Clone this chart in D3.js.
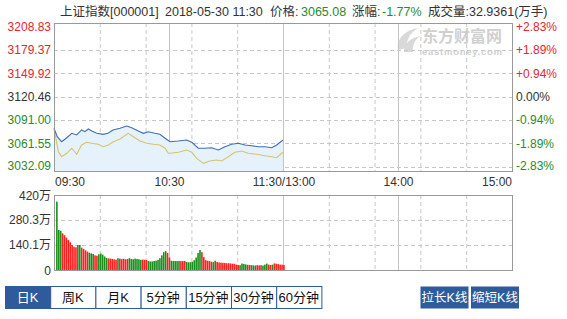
<!DOCTYPE html>
<html><head><meta charset="utf-8">
<script src="https://cdn.jsdelivr.net/npm/d3@7/dist/d3.min.js"></script>
<style>
html,body{margin:0;padding:0;background:#fff;}
svg text{font-family:"Liberation Sans",Arial,"Noto Sans CJK SC",sans-serif;}
</style></head>
<body><svg id="c" width="567" height="319"></svg>
<script>
// ---- data ----
const priceTicks = [3208.83, 3179.37, 3149.92, 3120.46, 3091.00, 3061.55, 3032.09];
const pctTicks = ["+2.83%", "+1.89%", "+0.94%", "0.00%", "-0.94%", "-1.89%", "-2.83%"];
const volTicks = [420, 280.3, 140.1, 0];
const volTickLabels = ["420万", "280.3万", "140.1万", "0"];
const timeLabels = ["09:30", "10:30", "11:30/13:00", "14:00", "15:00"];
const timeLabelMinutes = [0, 60, 120, 180, 240];
const priceMinutes = [0,1.7,4,6.7,9.3,11.9,14.5,16.2,18,19.8,22.4,25.7,28.3,30.9,34.6,38.1,40.7,44.2,46.8,49.4,52.9,55.5,58.2,60.8,65.1,69.5,72.2,75.6,79.1,82.6,86.1,89.6,93.1,96.6,100.1,103.6,107.1,110.6,114.1,116.7,119.3,120];
const priceValues = [3080.3,3069.7,3063.4,3068.4,3074.0,3071.9,3078.2,3076.0,3079.4,3076.9,3074.0,3072.7,3074.0,3078.2,3080.3,3083.2,3081.1,3076.9,3074.0,3076.0,3074.0,3072.7,3067.7,3063.4,3064.3,3065.5,3062.6,3055.1,3055.1,3055.8,3052.9,3057.1,3060.1,3061.4,3059.2,3058.3,3057.1,3057.1,3055.8,3059.2,3064.3,3065.08];
const avgMinutes = [0,2.3,4,6.7,9.3,11.9,14.5,17.1,19.8,23.2,25.8,28.5,31.1,34.6,38.9,41.6,45.1,48.6,52,55.5,58.2,59.9,60.8,65.1,69.5,72.2,74.8,78.2,81.7,85.2,87.9,91.3,94.8,98.4,101.8,106.2,110.6,114.1,116.7,119.3,120];
const avgValues = [3080.3,3050.8,3044.5,3048.8,3055.1,3047.5,3059.2,3062.6,3061.4,3060.1,3057.1,3059.2,3063.4,3066.8,3074.0,3069.7,3064.3,3061.4,3060.1,3059.2,3055.1,3048.8,3048.8,3050.0,3052.9,3050.0,3042.4,3036.1,3039.0,3040.3,3039.0,3044.5,3050.0,3051.7,3048.8,3047.5,3045.7,3044.5,3043.2,3048.8,3049.8];
const volumes = [383,224,220,205,195,182,168,155,140,130,127,140,140,125,118,110,103,97,93,90,82,80,88,92,86,76,68,65,64,62,60,58,66,64,61,63,60,62,66,62,60,64,62,60,57,58,57,56,50,48,48,50,52,56,66,82,100,106,96,70,52,50,50,50,51,50,50,51,45,43,44,46,55,70,95,112,100,72,55,52,50,46,44,52,45,42,41,40,39,38,38,37,35,34,30,28,27,36,34,31,29,28,27,26,25,27,26,27,25,30,36,30,28,30,37,35,33,30,30,28];
const volDirs = "GGGRRRRRRRRGGRRRRGGGRRGGGGGRRRRRGRRRRRGGGGGGGRRRGGGGGGGGGGRRGGGGGRRRGGGGGGGGRRRRRRGGRRRRRRRRRRRRGGGGRRGGGRRRGGGRRGRRRRRR".split("");
const buttons = ["日K", "周K", "月K", "5分钟", "15分钟", "30分钟", "60分钟"];
const rightButtons = ["拉长K线", "缩短K线"];

// ---- layout ----
const svg = d3.select("#c");
const L = 54, R = 512;
const pTop = 23, pBot = 171, vTop = 195, vBot = 270;
const x = d3.scaleLinear().domain([0, 240]).range([L, R]);
const y = d3.scaleLinear().domain([3032.09, 3208.83]).range([166.5, 26.5]);
const yv = d3.scaleLinear().domain([0, 420]).range([vBot, vTop]);
const red = "#e3262e", green = "#2a8a2a", dark = "#333";

// title
const segs = [
  {t:"上证指数[000001]", x:60, c:dark},
  {t:"2018-05-30 11:30", x:165, c:dark},
  {t:"价格:", x:270, c:dark},
  {t:"3065.08", x:301, c:green},
  {t:"涨幅:", x:352, c:dark},
  {t:"-1.77%", x:382, c:green},
  {t:"成交量:32.9361(万手)", x:428, c:dark}
];
segs.forEach(s => svg.append("text").attr("x", s.x).attr("y", 16).attr("font-size", 12.5).attr("fill", s.c).text(s.t));

// watermark
const wm = svg.append("g").attr("opacity", 0.55);
wm.append("path").attr("d", "M398,50 C396,40 404,30 418,28 C410,33 406,40 407,48 Z").attr("fill", "#bbb");
wm.append("path").attr("d", "M404,52 C404,44 410,38 420,36 C414,41 412,46 413,52 Z").attr("fill", "#bbb");
wm.append("text").attr("x", 422).attr("y", 42).attr("font-size", 16).attr("font-weight", "bold").attr("fill", "#aaa").style("font-family","'Noto Sans CJK SC'").text("东方财富网");
wm.append("text").attr("x", 422).attr("y", 55).attr("font-size", 9.5).attr("font-weight", "bold").attr("fill", "#aaa").attr("textLength", 80).text("eastmoney.com");

// grids
function vgrid(y0, y1) {
  for (let i = 1; i < 10; i++) {
    svg.append("line").attr("x1", x(i*24)+0.5).attr("x2", x(i*24)+0.5).attr("y1", y0).attr("y2", y1)
      .attr("stroke", "#c8c8c8").attr("stroke-dasharray", "4,3");
  }
  [60, 120, 180].forEach(m => svg.append("line").attr("x1", Math.round(x(m))+0.5).attr("x2", Math.round(x(m))+0.5)
      .attr("y1", y0).attr("y2", y1).attr("stroke", "#c4c4c4"));
}
vgrid(pTop, pBot);
vgrid(vTop, vBot);
priceTicks.slice(1).forEach(v => svg.append("line").attr("x1", L).attr("x2", R)
  .attr("y1", Math.round(y(v))+0.5).attr("y2", Math.round(y(v))+0.5).attr("stroke", "#c8c8c8").attr("stroke-dasharray", "4,3"));
volTicks.slice(1, 3).forEach(v => svg.append("line").attr("x1", L).attr("x2", R)
  .attr("y1", Math.round(yv(v))+0.5).attr("y2", Math.round(yv(v))+0.5).attr("stroke", "#c8c8c8").attr("stroke-dasharray", "4,3"));

// price area & lines
const pts = priceMinutes.map((m, i) => [m, priceValues[i]]);
const apts = avgMinutes.map((m, i) => [m, avgValues[i]]);
svg.append("path").datum(pts)
  .attr("d", d3.area().x(d => x(d[0])).y0(pBot).y1(d => y(d[1])))
  .attr("fill", "#e6f2fb");
svg.append("path").datum(apts)
  .attr("d", d3.line().x(d => x(d[0])).y(d => y(d[1])))
  .attr("fill", "none").attr("stroke", "#d6c46a").attr("stroke-width", 1.1);
svg.append("path").datum(pts)
  .attr("d", d3.line().x(d => x(d[0])).y(d => y(d[1])))
  .attr("fill", "none").attr("stroke", "#3f6db3").attr("stroke-width", 1.1);

// volume bars
svg.selectAll("rect.vb").data(volumes).enter().append("rect")
  .attr("x", (d, i) => x(i + 1.5) - 0.8).attr("width", 1.6)
  .attr("y", d => yv(d)).attr("height", d => vBot - yv(d))
  .attr("fill", (d, i) => volDirs[i] === "R" ? "#ff1f1f" : "#1b8f1b");

// frames
svg.append("rect").attr("x", L+0.5).attr("y", pTop+0.5).attr("width", R-L).attr("height", pBot-pTop)
  .attr("fill", "none").attr("stroke", "#999");
svg.append("rect").attr("x", L+0.5).attr("y", vTop+0.5).attr("width", R-L).attr("height", vBot-vTop)
  .attr("fill", "none").attr("stroke", "#999");

// price axis labels
priceTicks.forEach((v, i) => {
  const c = i < 3 ? red : (i === 3 ? dark : green);
  const yy = i === 0 ? y(v) + 4 : (i === 6 ? y(v) + 3.5 : y(v) + 4.5);
  svg.append("text").attr("x", 51).attr("y", yy).attr("text-anchor", "end").attr("font-size", 12).attr("fill", c).text(v.toFixed(2));
  svg.append("text").attr("x", 516).attr("y", yy).attr("font-size", 12).attr("fill", c).text(pctTicks[i]);
});
// volume labels
volTicks.forEach((v, i) => {
  svg.append("text").attr("x", 51).attr("y", yv(v) + 4.5).attr("text-anchor", "end").attr("font-size", 12).attr("fill", dark).text(volTickLabels[i]);
});
// time labels
timeLabels.forEach((t, i) => {
  const anchor = i === 0 ? "start" : (i === 4 ? "end" : "middle");
  const xx = i === 0 ? 55 : (i === 4 ? 512 : x(timeLabelMinutes[i]) + 1);
  svg.append("text").attr("x", xx).attr("y", 186).attr("text-anchor", anchor).attr("font-size", 12).attr("fill", dark).text(t);
});

// buttons
const bw = 45.2, bx0 = 5, by = 286, bh = 22;
buttons.forEach((b, i) => {
  const g = svg.append("g");
  g.append("rect").attr("x", bx0 + i*bw + 0.5).attr("y", by + 0.5).attr("width", bw).attr("height", bh)
    .attr("fill", i === 0 ? "#2d5b9b" : "#fff").attr("stroke", "#2d5b9b");
  g.append("text").attr("x", bx0 + i*bw + bw/2).attr("y", by + 16).attr("text-anchor", "middle")
    .attr("font-size", 13).attr("fill", i === 0 ? "#fff" : "#111").text(b);
});
rightButtons.forEach((b, i) => {
  const xx = 420.5 + i*50.5;
  svg.append("rect").attr("x", xx).attr("y", by + 0.5).attr("width", 48).attr("height", bh).attr("fill", "#2d5b9b");
  svg.append("text").attr("x", xx + 24).attr("y", by + 16).attr("text-anchor", "middle")
    .attr("font-size", 12.5).attr("fill", "#fff").text(b);
});
</script>
</body></html>
